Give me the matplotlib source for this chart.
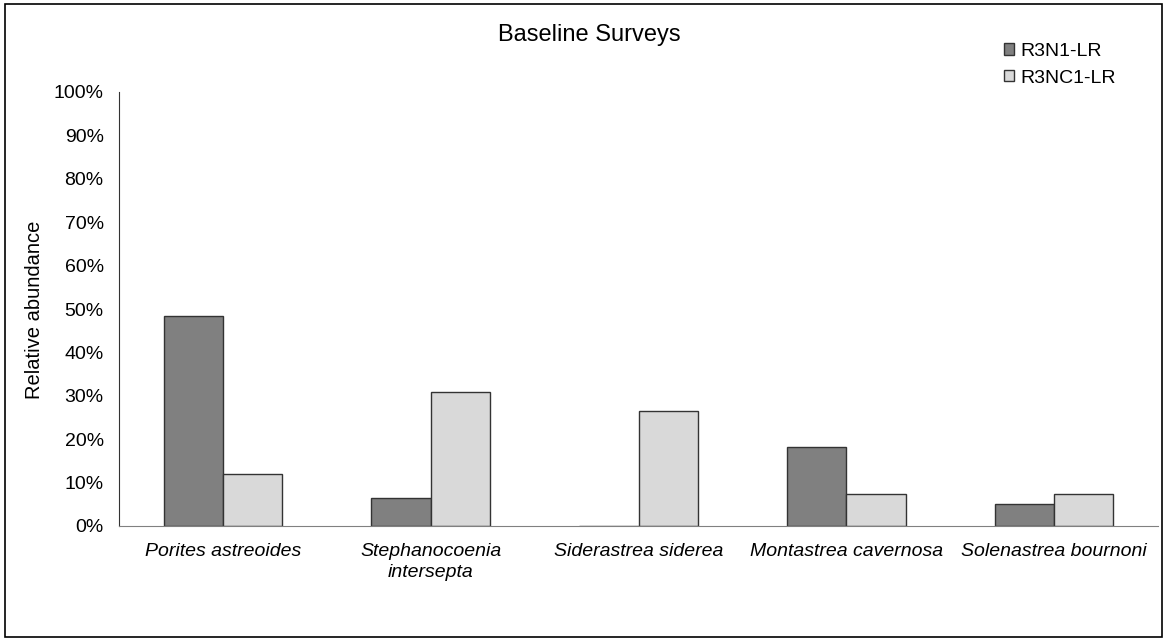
import matplotlib.pyplot as plt
import numpy as np
from matplotlib.patches import Rectangle

plt.rcParams['font.family'] = ['Liberation Sans', 'DejaVu Sans']

# Daten
arten = ['Porites astreoides', 'Stephanocoenia\nintersepta', 'Siderastrea siderea',
         'Montastrea cavernosa', 'Solenastrea bournoni']
r3n1 = [48.4, 6.5, 0.0, 18.3, 5.1]
r3nc1 = [11.9, 30.8, 26.6, 7.3, 7.3]
y_ticks = [0, 10, 20, 30, 40, 50, 60, 70, 80, 90, 100]

fig = plt.figure(figsize=(11.66, 6.43), dpi=100)
ax = fig.add_axes([119 / 1166, 1 - 526 / 643, (1158 - 119) / 1166, (526 - 92) / 643])

x = np.arange(len(arten))
w = 0.285
ax.bar(x - w / 2, r3n1, w, color='#808080', edgecolor='#333333', linewidth=1, label='R3N1-LR')
ax.bar(x + w / 2, r3nc1, w, color='#d9d9d9', edgecolor='#333333', linewidth=1, label='R3NC1-LR')

ax.set_xlim(-0.5, len(arten) - 0.5)
ax.set_ylim(0, 100)
ax.set_yticks(y_ticks)
ax.set_yticklabels([f'{t}%' for t in y_ticks], fontsize=14)
ax.set_xticks(x)
ax.set_xticklabels(arten, fontsize=14, style='italic', linespacing=1.3)
ax.tick_params(axis='y', length=0, pad=11)
ax.tick_params(axis='x', length=0, pad=12)
for s in ['top', 'right']:
    ax.spines[s].set_visible(False)
ax.spines['left'].set_color('#333333')
ax.spines['bottom'].set_color('#808080')

fig.text(35 / 1166, 1 - 310 / 643, 'Relative abundance', rotation=90, ha='center', va='center',
         fontsize=14.5)
fig.text(589 / 1166, 1 - 35 / 643, 'Baseline Surveys', ha='center', va='center', fontsize=17)

leg = fig.legend(loc='upper left', bbox_to_anchor=(1004 / 1166, 1 - 43 / 643), frameon=False,
                 fontsize=14, handlelength=0.52, handleheight=0.52, handletextpad=0.3,
                 labelspacing=0.5, borderaxespad=0, borderpad=0)

# Rahmen um die Grafik
fig.patches.append(Rectangle((5 / 1166, 1 - 637 / 643), 1157 / 1166, 633 / 643,
                             transform=fig.transFigure, fill=False, edgecolor='black', linewidth=1.2))

plt.savefig('out.png', dpi=100)
